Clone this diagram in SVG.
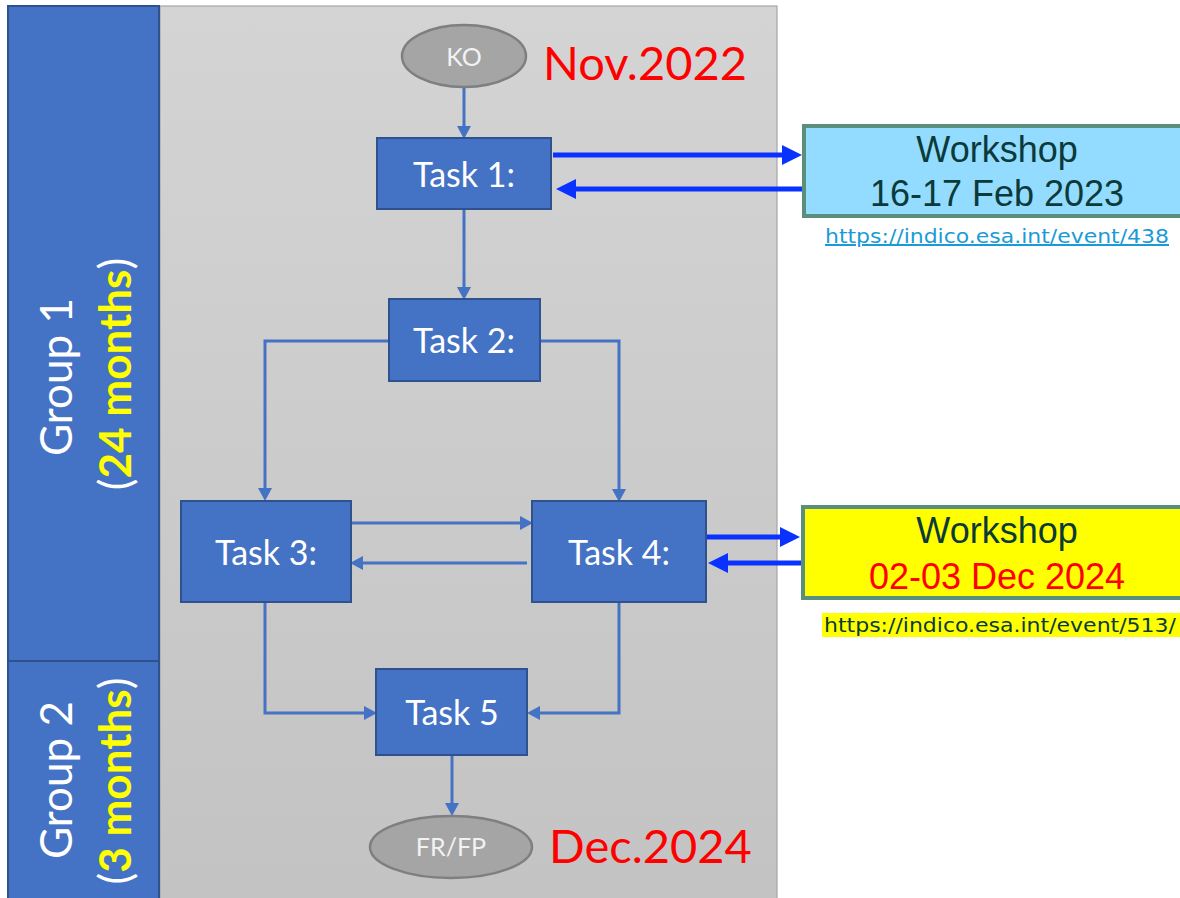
<svg xmlns="http://www.w3.org/2000/svg" width="1180" height="898" viewBox="0 0 1180 898">
  <style>
    .grp { fill: #4472C4; stroke: #2F528F; stroke-width: 2; }
    .grptxt { font-family: Lato, "Open Sans", sans-serif; font-size: 44px; fill: #FFFFFF; }
    .months { font-weight: bold; fill: #FFFF00; }
    .task { fill: #4472C4; stroke: #2F528F; stroke-width: 2; }
    .tasktxt { font-family: Lato, "Open Sans", sans-serif; font-size: 34px; fill: #FFFFFF; text-anchor: middle; }
    .term { fill: #A5A5A5; stroke: #7F7F7F; stroke-width: 2.5; }
    .termtxt { font-family: Lato, "Open Sans", sans-serif; font-size: 25px; fill: #F2F2F2; text-anchor: middle; }
    .date { font-family: Lato, "Open Sans", sans-serif; font-size: 47px; fill: #FF0000; }
    .flow { fill: none; stroke: #4472C4; stroke-width: 3; }
    .link { fill: none; stroke: #0A32FF; stroke-width: 5; }
    .ws { stroke: #5A8F7B; stroke-width: 4; }
    .wstxt { font-family: "Liberation Sans", Arial, sans-serif; font-size: 36px; fill: #0B3A3A; text-anchor: middle; }
    .wstxt.red { fill: #FF0000; }
    .url { font-family: "DejaVu Sans", Verdana, sans-serif; font-size: 20px; }
  </style>
  <defs>
    <linearGradient id="panelFill" x1="0" y1="0" x2="0" y2="1">
      <stop offset="0" stop-color="#D4D4D4"/>
      <stop offset="1" stop-color="#C3C3C3"/>
    </linearGradient>
    <marker id="headThin" markerUnits="userSpaceOnUse" markerWidth="14" markerHeight="14" refX="6" refY="7" orient="auto">
      <path d="M0,0 L13,7 L0,14 z" fill="#4472C4"/>
    </marker>
    <marker id="headBold" markerUnits="userSpaceOnUse" markerWidth="20" markerHeight="20" refX="10" refY="10" orient="auto">
      <path d="M0,0 L20,10 L0,20 z" fill="#0A32FF"/>
    </marker>
  </defs>

  <!-- background panel -->
  <rect x="160" y="6" width="617" height="900" fill="url(#panelFill)" stroke="#A6A6A6" stroke-width="1.2"/>

  <!-- phase bars -->
  <g id="group1">
    <rect class="grp" x="8" y="6" width="151" height="655"/>
    <text class="grptxt" transform="translate(72,377) rotate(-90)" text-anchor="middle">Group 1</text>
    <text class="grptxt" transform="translate(131,374) rotate(-90)" text-anchor="middle">(<tspan class="months">24 months</tspan>)</text>
  </g>
  <g id="group2">
    <rect class="grp" x="8" y="661" width="151" height="245"/>
    <text class="grptxt" transform="translate(72,780) rotate(-90)" text-anchor="middle">Group 2</text>
    <text class="grptxt" transform="translate(131,781) rotate(-90)" text-anchor="middle">(<tspan class="months">3 months</tspan>)</text>
  </g>

  <!-- connectors -->
  <g id="connectors">
    <path class="flow" d="M464,88 V132" marker-end="url(#headThin)"/>
    <path class="flow" d="M464,210 V293" marker-end="url(#headThin)"/>
    <path class="flow" d="M389,341 H265 V494" marker-end="url(#headThin)"/>
    <path class="flow" d="M541,341 H619 V495" marker-end="url(#headThin)"/>
    <path class="flow" d="M351,523 H526" marker-end="url(#headThin)"/>
    <path class="flow" d="M527,563 H357" marker-end="url(#headThin)"/>
    <path class="flow" d="M265,603 V713 H370" marker-end="url(#headThin)"/>
    <path class="flow" d="M619,603 V713 H534" marker-end="url(#headThin)"/>
    <path class="flow" d="M452,756 V809" marker-end="url(#headThin)"/>
    <path class="link" d="M553,155 H792" marker-end="url(#headBold)"/>
    <path class="link" d="M802,189 H566" marker-end="url(#headBold)"/>
    <path class="link" d="M707,537 H790" marker-end="url(#headBold)"/>
    <path class="link" d="M801,563 H718" marker-end="url(#headBold)"/>
  </g>

  <!-- milestones -->
  <g id="ko">
    <ellipse class="term" cx="464" cy="56" rx="62" ry="31"/>
    <text class="termtxt" x="464" y="66">KO</text>
  </g>
  <text class="date" x="543" y="80">Nov.2022</text>

  <g id="frfp">
    <ellipse class="term" cx="451" cy="847" rx="81" ry="31"/>
    <text class="termtxt" x="451" y="856">FR/FP</text>
  </g>
  <text class="date" x="549" y="863">Dec.2024</text>

  <!-- tasks -->
  <g id="task1">
    <rect class="task" x="377" y="138" width="174" height="71"/>
    <text class="tasktxt" x="464" y="187">Task 1:</text>
  </g>
  <g id="task2">
    <rect class="task" x="389" y="299" width="151" height="82"/>
    <text class="tasktxt" x="464" y="353">Task 2:</text>
  </g>
  <g id="task3">
    <rect class="task" x="181" y="501" width="170" height="101"/>
    <text class="tasktxt" x="266" y="565">Task 3:</text>
  </g>
  <g id="task4">
    <rect class="task" x="532" y="501" width="174" height="101"/>
    <text class="tasktxt" x="619" y="565">Task 4:</text>
  </g>
  <g id="task5">
    <rect class="task" x="376" y="669" width="151" height="86"/>
    <text class="tasktxt" x="452" y="725">Task 5</text>
  </g>

  <!-- workshops -->
  <g id="workshop1">
    <rect class="ws" x="804" y="126" width="400" height="90" fill="#93DCFF"/>
    <text class="wstxt" x="997" y="162">Workshop</text>
    <text class="wstxt" x="997" y="206">16-17 Feb 2023</text>
    <text class="url" x="825" y="243" fill="#1A9BD7" text-decoration="underline" textLength="344" lengthAdjust="spacingAndGlyphs">https://indico.esa.int/event/438</text>
  </g>
  <g id="workshop2">
    <rect class="ws" x="803" y="507" width="400" height="91" fill="#FFFF00"/>
    <text class="wstxt" x="997" y="543">Workshop</text>
    <text class="wstxt red" x="997" y="589">02-03 Dec 2024</text>
    <rect x="822" y="613" width="360" height="24" fill="#FFFF00"/>
    <text class="url" x="824" y="632" fill="#0B3A3A" textLength="352" lengthAdjust="spacingAndGlyphs">https://indico.esa.int/event/513/</text>
  </g>
</svg>
